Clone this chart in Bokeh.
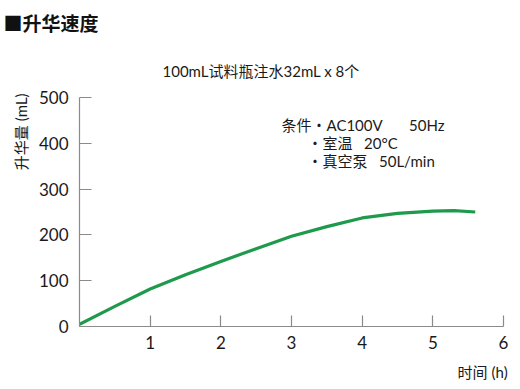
from bokeh.plotting import figure
from bokeh.models import Label, FixedTicker, Range1d, Title
from bokeh.embed import file_html
from bokeh.resources import INLINE

hours = [0, 0.5, 1, 1.5, 2, 2.5, 3, 3.5, 4, 4.5, 5, 5.3, 5.6]
volume = [5, 44, 82, 113, 142, 170, 197, 218, 237, 247, 252, 253, 250]
x_ticks = [1, 2, 3, 4, 5, 6]
y_ticks = [0, 100, 200, 300, 400, 500]

NB = "\u00a0"
title_text = "■升华速度"
subtitle_text = "100mL试料瓶注水32mL x 8个"
cond_lines = ["条件・AC100V" + NB * 7 + "50Hz", "・室温" + NB * 3 + "20°C", "・真空泵" + NB * 3 + "50L/min"]
x_label = "时间 (h)"
y_label = "升华量 (mL)"

CJK = "Noto Sans CJK SC"
MIX = "Lato, Noto Sans CJK SC"
NUM = "Lato"

FL, FB = 79, 328  # frame left / bottom in page pixels

p = figure(width=520, height=389, output_backend="svg", toolbar_location=None,
           x_range=Range1d(0, 6), y_range=Range1d(0, 500),
           min_border_left=FL, min_border_right=17, min_border_top=97, min_border_bottom=389 - FB)
p.outline_line_color = None
p.grid.grid_line_color = None
p.background_fill_color = "white"

p.line(hours, volume, line_color="#1f9a4c", line_width=3.2)

for ax in (p.xaxis[0], p.yaxis[0]):
    ax.axis_line_color = "#8a8a8a"
    ax.axis_line_width = 1.2
    ax.major_tick_line_color = "#8a8a8a"
    ax.major_tick_line_width = 1.2
    ax.major_tick_out = 0
    ax.minor_tick_line_color = None
    ax.major_label_text_font = NUM
    ax.major_label_text_font_size = "17px"
    ax.major_label_text_color = "#1a1a1a"

p.xaxis[0].ticker = FixedTicker(ticks=x_ticks)
p.xaxis[0].major_tick_in = 11
p.xaxis[0].major_label_standoff = 9
p.yaxis[0].ticker = FixedTicker(ticks=y_ticks)
p.yaxis[0].major_tick_in = 12
p.yaxis[0].major_label_standoff = 11

# titles in the border panels (p.title is the outermost)
p.title = Title(text=title_text, align="left", offset=-76, standoff=8, vertical_align="top",
                text_font=CJK, text_font_size="19px", text_font_style="bold",
                text_color="#111111")
p.add_layout(Title(text=subtitle_text, align="left", offset=83, standoff=36,
                   text_font=MIX, text_font_size="15px", text_font_style="normal",
                   text_color="#1a1a1a"), "above")
p.add_layout(Title(text=x_label, align="right", offset=-4, standoff=18,
                   text_font=MIX, text_font_size="15px", text_font_style="normal",
                   text_color="#1a1a1a"), "below")
p.add_layout(Title(text=y_label, align="right", offset=-4, standoff=12,
                   text_font=MIX, text_font_size="15px", text_font_style="normal",
                   text_color="#1a1a1a"), "left")


def add_label(text, px, py, size, align="left", font=MIX, color="#1a1a1a"):
    p.add_layout(Label(x=px - FL, y=FB - py, x_units="screen", y_units="screen",
                       text=text, text_font=font,
                       text_font_size=size, text_align=align, text_baseline="middle",
                       text_color=color))


add_label(cond_lines[0], 281, 126, "15px")
add_label(cond_lines[1], 307, 144, "15px")
add_label(cond_lines[2], 307, 162, "15px")

open("out.html", "w").write(file_html(p, INLINE))
